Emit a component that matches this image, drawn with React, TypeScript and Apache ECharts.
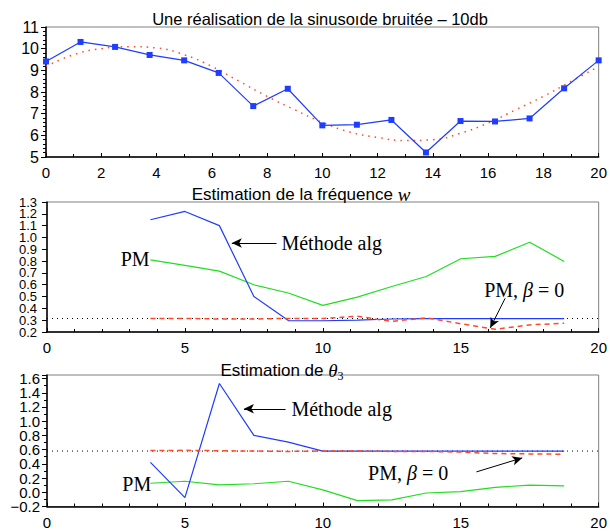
import React, { useEffect, useRef } from "react";
import * as echarts from "echarts";

// ---- data ----
const topX = [0, 1.25, 2.5, 3.75, 5, 6.25, 7.5, 8.75, 10, 11.25, 12.5, 13.75, 15, 16.25, 17.5, 18.75, 20];
const noisy = [9.41, 10.31, 10.08, 9.71, 9.46, 8.88, 7.35, 8.15, 6.46, 6.49, 6.71, 5.21, 6.66, 6.64, 6.78, 8.17, 9.46];
const cleanX = [0, 1, 2, 3, 4, 5, 6, 7, 8, 9, 10, 11, 12, 13, 14, 15, 16, 17, 18, 19, 20];
const clean = [9.18, 9.72, 10.0, 10.09, 10.03, 9.72, 9.18, 8.49, 7.8, 7.18, 6.6, 6.15, 5.9, 5.76, 5.8, 6.1, 6.57, 7.18, 7.8, 8.49, 9.18];

const estX = [3.75, 5, 6.25, 7.5, 8.75, 10, 11.25, 12.5, 13.75, 15, 16.25, 17.5, 18.75];
const wAlg = [1.15, 1.22, 1.1, 0.5, 0.297, 0.295, 0.3, 0.31, 0.314, 0.314, 0.314, 0.314, 0.314];
const wPM = [0.81, 0.764, 0.715, 0.6, 0.53, 0.425, 0.495, 0.585, 0.67, 0.82, 0.84, 0.96, 0.797];
const wPM0 = [0.315, 0.315, 0.31, 0.31, 0.315, 0.315, 0.333, 0.29, 0.32, 0.27, 0.223, 0.26, 0.275];
const wTrueX = [0, 20];
const wTrue = [0.314, 0.314];

const tAlg = [0.42, -0.076, 1.53, 0.8, 0.705, 0.58, 0.58, 0.58, 0.58, 0.58, 0.58, 0.58, 0.58];
const tPM = [0.127, 0.155, 0.103, 0.12, 0.155, 0.033, -0.118, -0.108, -0.01, 0.009, 0.07, 0.1, 0.09];
const tPM0 = [0.587, 0.59, 0.585, 0.58, 0.575, 0.58, 0.58, 0.575, 0.575, 0.565, 0.545, 0.54, 0.535];
const tTrueX = [0, 20];
const tTrue = [0.58, 0.58];

// tick labels
const midTicks = [1.3, 1.2, 1.1, 1.0, 0.9, 0.8, 0.7, 0.6, 0.5, 0.4, 0.3, 0.2];
const midTickLabels = ["1.3", "1.2", "1.1", "1.0", "0.9", "0.8", "0.7", "0.6", "0.5", "0.4", "0.3", "0.2"];
const botTicks = [1.6, 1.4, 1.2, 1.0, 0.8, 0.6, 0.4, 0.2, 0.0, -0.2];
const botTickLabels = ["1.6", "1.4", "1.2", "1.0", "0.8", "0.6", "0.4", "0.2", "0.0", "−0.2"];

const topTitle = "Une réalisation de la sinusoıde bruitée – 10db";

const zip = (xs: number[], ys: number[]) => xs.map((x, i) => [x, ys[i]]);

const BLUE = "#1f3cff";
const RED = "#ff4a2a";
const GREEN = "#22dd22";
const SANS = "Liberation Sans";
const SERIF = "Liberation Serif";

export default function App() {
  const ref = useRef<HTMLDivElement>(null);
  useEffect(() => {
    if (!ref.current) return;
    const chart = echarts.init(ref.current, null, { renderer: "svg" });

    const axisLineBlack = { show: true, onZero: false, lineStyle: { color: "#000", width: 1.5 } };

    const xAxisCommon = (gridIndex: number, interval: number, minorSplit: number) => ({
      type: "value",
      gridIndex,
      min: 0,
      max: 20,
      interval,
      axisLine: axisLineBlack,
      axisTick: { show: true, inside: true, length: 4, lineStyle: { color: "#000" } },
      minorTick: { show: true, splitNumber: minorSplit, length: 3, lineStyle: { color: "#000" } },
      axisLabel: {
        color: "#000",
        fontFamily: SANS,
        fontSize: 15,
        margin: 8,
        showMinLabel: true,
        showMaxLabel: true,
        hideOverlap: false,
      },
      splitLine: { show: false },
    });

    const grids = [
      { left: 46, width: 556, top: 27, height: 130 },
      { left: 47, width: 555, top: 202, height: 130 },
      { left: 47, width: 555, top: 375, height: 131.5 },
    ].map((g) => ({ ...g, show: true, borderColor: "#808080", borderWidth: 1, backgroundColor: "transparent" }));

    const annot = (coord: number[], text: string, align: string) => ({
      coord,
      symbol: "circle",
      symbolSize: 0,
      label: {
        show: true,
        position: "inside",
        align,
        verticalAlign: "middle",
        formatter: text,
        color: "#000",
        fontFamily: SERIF,
        fontSize: 20,
        rich: {
          b: { fontFamily: SERIF, fontStyle: "italic", fontSize: 20, color: "#000" },
        },
      },
    });

    const arrow = (from: number[], to: number[]) => [{ coord: from }, { coord: to }];

    const arrowStyle = {
      silent: true,
      symbol: ["none", "arrow"],
      symbolSize: [7, 10],
      label: { show: false },
      lineStyle: { color: "#000", width: 1, type: "solid" },
      emphasis: { disabled: true },
    };

    const option: any = {
      animation: false,
      backgroundColor: "#fff",
      title: [
        {
          text: topTitle,
          left: 315,
          top: 5,
          textAlign: "center",
          textStyle: { fontFamily: SANS, fontSize: 16.5, fontWeight: "normal", color: "#000" },
        },
        {
          text: "Estimation de la fréquence {w|w}",
          left: 296,
          top: 180,
          textAlign: "center",
          textStyle: {
            fontFamily: SANS,
            fontSize: 17,
            fontWeight: "normal",
            color: "#000",
            rich: { w: { fontFamily: SERIF, fontStyle: "italic", fontSize: 19, color: "#000" } },
          },
        },
        {
          text: "Estimation de {t|θ}{s|3}",
          left: 277,
          top: 353,
          textAlign: "center",
          textStyle: {
            fontFamily: SANS,
            fontSize: 17,
            fontWeight: "normal",
            color: "#000",
            rich: {
              t: { fontFamily: SERIF, fontStyle: "italic", fontSize: 19, color: "#000" },
              s: { fontFamily: SERIF, fontSize: 12, color: "#000", verticalAlign: "bottom", lineHeight: 24, padding: [10, 0, 0, 0] },
            },
          },
        },
      ],
      grid: grids,
      xAxis: [xAxisCommon(0, 2, 2), xAxisCommon(1, 5, 5), xAxisCommon(2, 5, 5)],
      yAxis: [
        {
          type: "value",
          gridIndex: 0,
          min: 5,
          max: 11,
          interval: 1,
          axisLine: axisLineBlack,
          axisTick: { show: true, inside: false, length: 5, lineStyle: { color: "#000" } },
          minorTick: { show: true, splitNumber: 5, length: 3, lineStyle: { color: "#000" } },
          axisLabel: {
            color: "#000",
            fontFamily: SANS,
            fontSize: 16,
            margin: 7,
            showMinLabel: true,
            showMaxLabel: true,
            hideOverlap: false,
          },
          splitLine: { show: false },
        },
        {
          type: "value",
          gridIndex: 1,
          min: 0.2,
          max: 1.3,
          interval: 0.1,
          axisLine: axisLineBlack,
          axisTick: { show: true, inside: false, length: 5, lineStyle: { color: "#000" } },
          axisLabel: { show: false },
          splitLine: { show: false },
        },
        {
          type: "value",
          gridIndex: 2,
          min: -0.2,
          max: 1.65,
          interval: 0.2,
          axisLine: axisLineBlack,
          axisTick: { show: true, inside: false, length: 5, lineStyle: { color: "#000" } },
          minorTick: { show: true, splitNumber: 2, length: 3, lineStyle: { color: "#000" } },
          axisLabel: { show: false },
          splitLine: { show: false },
        },
      ],
      series: [
        // top
        {
          type: "line",
          xAxisIndex: 0,
          yAxisIndex: 0,
          data: zip(cleanX, clean),
          smooth: true,
          showSymbol: false,
          symbol: "none",
          lineStyle: { color: RED, width: 1.5, type: [1.5, 5] },
          z: 2,
        },
        {
          type: "line",
          xAxisIndex: 0,
          yAxisIndex: 0,
          data: zip(topX, noisy),
          symbol: "rect",
          symbolSize: 6,
          itemStyle: { color: BLUE },
          lineStyle: { color: BLUE, width: 1.2 },
          z: 3,
        },
        // middle
        {
          type: "line",
          xAxisIndex: 1,
          yAxisIndex: 1,
          data: zip(wTrueX, wTrue),
          symbol: "none",
          lineStyle: { color: "#000", width: 1, type: [1, 4] },
          z: 1,
        },
        {
          type: "line",
          xAxisIndex: 1,
          yAxisIndex: 1,
          data: zip(estX, wAlg),
          symbol: "none",
          lineStyle: { color: BLUE, width: 1.2 },
          markPoint: { silent: true, data: [annot([8.5, 0.953], "Méthode alg", "left")] },
          markLine: { ...arrowStyle, data: [arrow([8.32, 0.953], [6.7, 0.953])] },
          z: 3,
        },
        {
          type: "line",
          xAxisIndex: 1,
          yAxisIndex: 1,
          data: zip(estX, wPM),
          symbol: "none",
          lineStyle: { color: GREEN, width: 1.2 },
          markPoint: { silent: true, data: [annot([3.72, 0.815], "PM", "right")] },
          z: 2,
        },
        {
          type: "line",
          xAxisIndex: 1,
          yAxisIndex: 1,
          data: zip(estX, wPM0),
          symbol: "none",
          lineStyle: { color: RED, width: 1.5, type: [5, 4] },
          markPoint: { silent: true, data: [annot([15.85, 0.553], "PM, {b|β} = 0", "left")] },
          markLine: { ...arrowStyle, data: [arrow([16.61, 0.485], [16.07, 0.235])] },
          z: 4,
        },
        // bottom
        {
          type: "line",
          xAxisIndex: 2,
          yAxisIndex: 2,
          data: zip(tTrueX, tTrue),
          symbol: "none",
          lineStyle: { color: "#000", width: 1, type: [1, 4] },
          z: 1,
        },
        {
          type: "line",
          xAxisIndex: 2,
          yAxisIndex: 2,
          data: zip(estX, tAlg),
          symbol: "none",
          lineStyle: { color: BLUE, width: 1.2 },
          markPoint: { silent: true, data: [annot([8.86, 1.175], "Méthode alg", "left")] },
          markLine: { ...arrowStyle, data: [arrow([8.65, 1.175], [7.14, 1.175])] },
          z: 3,
        },
        {
          type: "line",
          xAxisIndex: 2,
          yAxisIndex: 2,
          data: zip(estX, tPM),
          symbol: "none",
          lineStyle: { color: GREEN, width: 1.2 },
          markPoint: { silent: true, data: [annot([3.78, 0.117], "PM", "right")] },
          z: 2,
        },
        {
          type: "line",
          xAxisIndex: 2,
          yAxisIndex: 2,
          data: zip(estX, tPM0),
          symbol: "none",
          lineStyle: { color: RED, width: 1.5, type: [5, 4] },
          markPoint: { silent: true, data: [annot([11.64, 0.272], "PM, {b|β} = 0", "left")] },
          markLine: { ...arrowStyle, data: [arrow([15.57, 0.287], [17.23, 0.484])] },
          z: 4,
        },
      ],
    };

    chart.setOption(option);

    // y tick labels for the two lower panels, positioned through the axes' own scales
    const labelTexts = (axisIndex: number, ticks: number[], labels: string[], right: number, size: number) =>
      ticks.map((v, i) => ({
        type: "text",
        x: right,
        y: chart.convertToPixel({ yAxisIndex: axisIndex } as any, v) as number,
        silent: true,
        style: {
          text: labels[i],
          align: "right",
          verticalAlign: "middle",
          font: `${size}px "${SANS}"`,
          fill: "#000",
        },
      }));

    chart.setOption({
      graphic: [
        ...labelTexts(1, midTicks, midTickLabels, 37, 13),
        ...labelTexts(2, botTicks, botTickLabels, 40, 15),
      ],
    });

    return () => chart.dispose();
  }, []);

  return (
    <div
      ref={ref}
      style={{ position: "fixed", left: 0, top: 0, width: 610, height: 531, background: "#fff" }}
    />
  );
}
